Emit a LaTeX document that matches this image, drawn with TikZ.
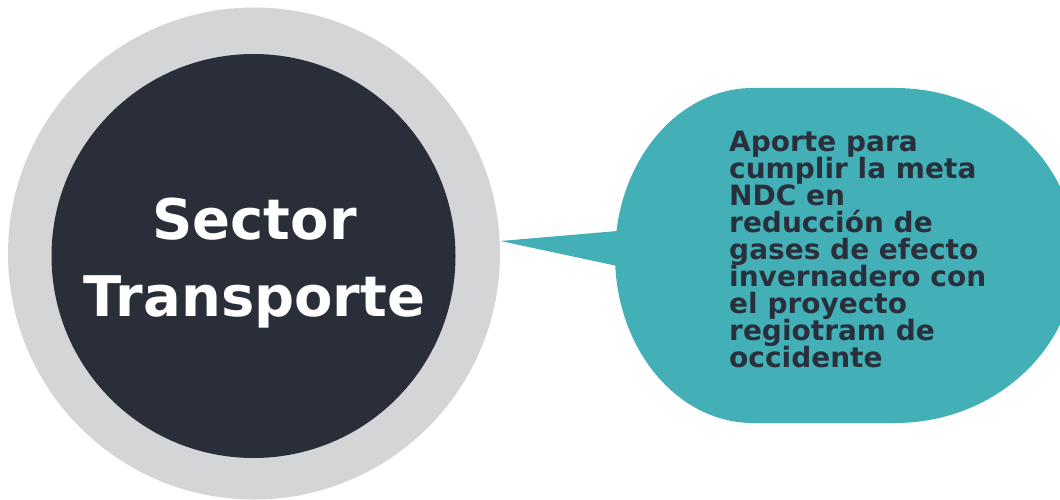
\documentclass[tikz,border=0pt]{standalone}
\usepackage{fontspec}
\setmainfont{DejaVu Sans}
\definecolor{ringgray}{HTML}{D4D5D7}
\definecolor{coredark}{HTML}{292E39}
\definecolor{bubbleteal}{HTML}{43AFB6}
\definecolor{msgdark}{HTML}{2A303B}
\newcommand\coretextfont{\fontsize{56}{77}\selectfont\bfseries}
\newcommand\msgtextfont{\fontsize{28}{27}\selectfont\bfseries\lineskiplimit=-50pt\relax}
\tikzset{
  ringshape/.style={fill=ringgray},
  coreshape/.style={fill=coredark},
  bubbleshape/.style={fill=bubbleteal},
  coretext/.style={inner sep=0pt, align=center, text=white, font=\coretextfont},
  msgtext/.style={inner sep=0pt, align=left, text=msgdark, font=\msgtextfont},
}
\begin{document}
\begin{tikzpicture}[x=1pt,y=1pt]
\useasboundingbox (0,0) rectangle (1060,499);
% ring and core
\fill[ringshape] (254,245.5) circle[radius=246pt];
\fill[coreshape] (253.5,243) circle[radius=202pt];
% bubble with pointer
\coordinate (tip) at (500.5,258);
\fill[bubbleshape] (tip) -- (650,270.8) -- (650,226) -- cycle;
\fill[bubbleshape] (753,411) -- (895,411)
  arc[start angle=90, end angle=-90, x radius=181pt, y radius=167.5pt]
  -- (753,76)
  arc[start angle=270, end angle=90, x radius=138pt, y radius=167.5pt]
  -- cycle;
% texts
\node[coretext] (core) at (254.5,235.7) {Sector\\Transporte};
\node[msgtext, anchor=north west] (msg) at (729,368.4)
  {Aporte para\\cumplir la meta\\NDC en\\reducción de\\gases de efecto\\invernadero con\\el proyecto\\regiotram de\\occidente};
\end{tikzpicture}
\end{document}
